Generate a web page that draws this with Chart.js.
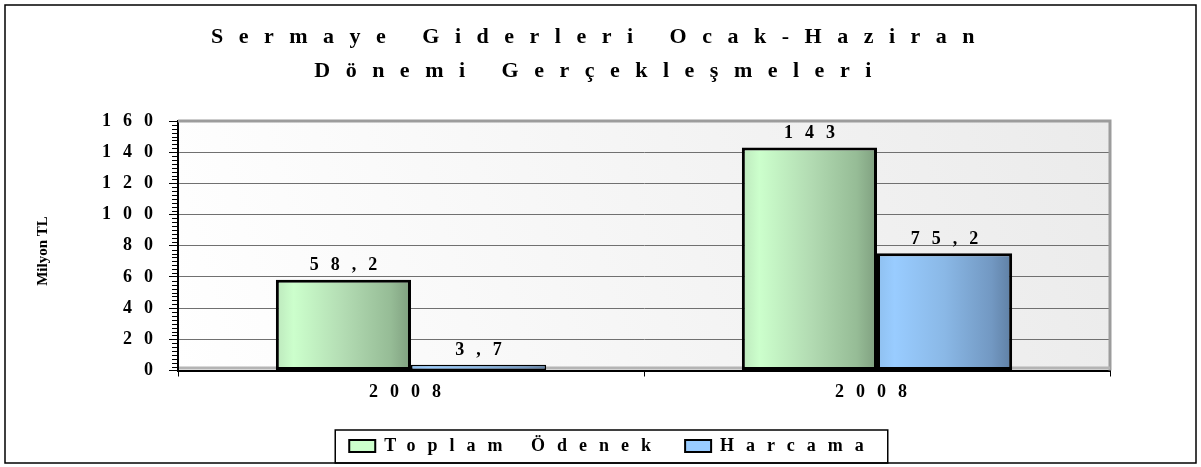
<!DOCTYPE html>
<html>
<head>
<meta charset="utf-8">
<script src="https://cdn.jsdelivr.net/npm/chart.js@4.4.1/dist/chart.umd.min.js"></script>
<style>
  html, body { margin: 0; padding: 0; background: #fff; }
  canvas { display: block; }
</style>
</head>
<body>
<canvas id="giderChart" width="1201" height="467"></canvas>
<script>
const categories = ["2008", "2008"];
const seriesNames = ["Toplam Ödenek", "Harcama"];
const toplamOdenek = [58.2, 143];
const harcama = [3.7, 75.2];
const yTicks = [0, 20, 40, 60, 80, 100, 120, 140, 160];
const titleLines = ["Sermaye Giderleri Ocak-Haziran", "Dönemi Gerçekleşmeleri"];
const axisTitle = "Milyon TL";

const FONT = "'Liberation Serif', 'Times New Roman', serif";
const SPACING = "12px";
const TITLE_SPACING = "15.5px";
const LEGEND_SHIFT = 12;
const flatColors = ["#ccffcc", "#99ccff"];

function barFill(stops, flat) {
    return function (c) {
        const el = c.element;
        if (!el || !isFinite(el.x) || !el.width) return flat;
        const g = c.chart.ctx.createLinearGradient(el.x - el.width / 2, 0, el.x + el.width / 2, 0);
        stops.forEach(s => g.addColorStop(s[0], s[1]));
        return g;
    };
}

// wide letter spacing like the original document
const spacedText = {
    id: "spacedText",
    afterInit(chart) { wrapBoxes(chart); },
    beforeUpdate(chart) { wrapBoxes(chart); chart.ctx.letterSpacing = SPACING; },
    beforeDraw(chart) { chart.ctx.letterSpacing = SPACING; }
};
function wrapBoxes(chart) {
    const t = chart.titleBlock;
    if (t && !t._spaced) {
        const draw = t.draw.bind(t);
        t.draw = function (area) {
            const ctx = chart.ctx;
            ctx.save();
            ctx.letterSpacing = TITLE_SPACING;
            draw(area);
            ctx.restore();
        };
        t._spaced = true;
    }
    const l = chart.legend;
    if (l && !l._spaced) {
        const draw = l.draw.bind(l);
        l.draw = function (area) {
            const ctx = chart.ctx;
            ctx.save();
            ctx.translate(LEGEND_SHIFT, 0);
            draw(area);
            ctx.restore();
        };
        l._spaced = true;
    }
}

const decor = {
    id: "decor",
    beforeDraw(chart) {
        const ctx = chart.ctx, a = chart.chartArea;
        ctx.save();
        ctx.fillStyle = "#fff";
        ctx.fillRect(0, 0, chart.width, chart.height);
        ctx.strokeStyle = "#000";
        ctx.lineWidth = 1.5;
        ctx.strokeRect(5, 5, chart.width - 10, chart.height - 9);
        const g = ctx.createLinearGradient(a.left, a.bottom, a.right, a.top);
        g.addColorStop(0, "#ffffff");
        g.addColorStop(1, "#ebebeb");
        ctx.fillStyle = g;
        ctx.fillRect(a.left, a.top, a.width, a.height);
        ctx.restore();
    },
    beforeDatasetsDraw(chart) {
        const ctx = chart.ctx, a = chart.chartArea, y = chart.scales.y;
        ctx.save();
        ctx.strokeStyle = "#9c9c9c";
        ctx.lineWidth = 3;
        ctx.beginPath();
        ctx.moveTo(a.left, a.top);
        ctx.lineTo(a.right, a.top);
        ctx.lineTo(a.right, a.bottom);
        ctx.stroke();
        ctx.fillStyle = "#b4b4b4";
        ctx.fillRect(a.left + 1, a.bottom - 4, a.width - 1, 3);
        // minor ticks
        ctx.strokeStyle = "#000";
        ctx.lineWidth = 1;
        const major = yTicks[1] - yTicks[0];
        for (let v = y.min; v <= y.max; v += major / 8) {
            if (v % major === 0) continue;
            const py = Math.round(y.getPixelForValue(v)) + 0.5;
            ctx.beginPath();
            ctx.moveTo(a.left - 6, py);
            ctx.lineTo(a.left, py);
            ctx.stroke();
        }
        ctx.restore();
    },
    afterDatasetsDraw(chart) {
        const ctx = chart.ctx;
        ctx.save();
        ctx.letterSpacing = SPACING;
        ctx.font = "bold 18px " + FONT;
        ctx.fillStyle = "#000";
        ctx.textAlign = "center";
        ctx.textBaseline = "bottom";
        chart.data.datasets.forEach((ds, i) => {
            chart.getDatasetMeta(i).data.forEach((el, j) => {
                const txt = String(ds.data[j]).replace(".", ",");
                ctx.fillText(txt, el.x + 6, el.y - 5);
            });
        });
        ctx.restore();
    },
    afterDraw(chart) {
        const ctx = chart.ctx, hb = chart.legend.legendHitBoxes;
        ctx.save();
        if (hb && hb.length) {
            const first = hb[0], last = hb[hb.length - 1];
            ctx.strokeStyle = "#000";
            ctx.lineWidth = 1.5;
            ctx.strokeRect(first.left - 14 + LEGEND_SHIFT, first.top - 7,
                last.left + last.width - first.left + 26, first.height + 15);
        }
        ctx.letterSpacing = "0px";
        ctx.translate(43, 251);
        ctx.rotate(-Math.PI / 2);
        ctx.font = "bold 15px " + FONT;
        ctx.fillStyle = "#000";
        ctx.textAlign = "center";
        ctx.textBaseline = "middle";
        ctx.fillText(axisTitle, 0, 0);
        ctx.restore();
    }
};

const barBorder = c => (c.raw !== undefined && c.raw < 10 ? 1.5 : 3);

const giderChart = new Chart(document.getElementById("giderChart").getContext("2d"), {
    type: "bar",
    data: {
        labels: categories,
        datasets: [{
            label: seriesNames[0],
            data: toplamOdenek,
            backgroundColor: barFill([[0, "#bde8bd"], [0.13, "#ccffcc"], [0.5, "#b3dcb3"], [0.85, "#96bc96"], [1, "#7f9f7f"]], flatColors[0]),
            borderColor: "#000",
            borderWidth: barBorder,
            borderSkipped: false,
            categoryPercentage: 0.58,
            barPercentage: 1.0,
        }, {
            label: seriesNames[1],
            data: harcama,
            backgroundColor: barFill([[0, "#8fc0ef"], [0.13, "#99ccff"], [0.5, "#8ab8e6"], [0.85, "#7298c2"], [1, "#5f7fa3"]], flatColors[1]),
            borderColor: "#000",
            borderWidth: barBorder,
            borderSkipped: false,
            categoryPercentage: 0.58,
            barPercentage: 1.0,
        }],
    },
    options: {
        responsive: false,
        animation: false,
        layout: { padding: { left: 91, right: 91, top: 10, bottom: 2 } },
        plugins: {
            title: {
                display: true,
                text: titleLines,
                color: "#000",
                font: { family: FONT, size: 22, weight: "bold", lineHeight: 34 / 22 },
                padding: { top: 10, bottom: 33 },
            },
            legend: {
                display: true,
                position: "bottom",
                labels: {
                    color: "#000",
                    font: { family: FONT, size: 18, weight: "bold" },
                    boxWidth: 26,
                    boxHeight: 12,
                    padding: 22,
                    generateLabels(chart) {
                        return Chart.defaults.plugins.legend.labels.generateLabels(chart)
                            .map((l, i) => Object.assign(l, { lineWidth: 2, strokeStyle: "#000", fillStyle: flatColors[i] }));
                    },
                },
            },
            tooltip: { enabled: false },
        },
        scales: {
            x: {
                afterFit: s => { s.height = 44.5; },
                grid: { display: true, drawOnChartArea: false, drawTicks: true, tickLength: 6, tickColor: "#000", offset: true },
                border: { color: "#000", width: 2 },
                ticks: { color: "#000", font: { family: FONT, size: 18, weight: "bold" }, padding: 5 },
            },
            y: {
                min: yTicks[0],
                max: yTicks[yTicks.length - 1],
                afterFit: s => { s.width = 87; },
                grid: {
                    color: c => (c.tick && c.tick.value === 0 ? "rgba(0,0,0,0)" : "#707070"),
                    lineWidth: 1,
                    tickColor: "#000",
                    tickLength: 9,
                },
                border: { color: "#000", width: 2 },
                ticks: {
                    stepSize: yTicks[1] - yTicks[0],
                    color: "#000",
                    padding: 4,
                    font: { family: FONT, size: 18, weight: "bold" },
                    callback: v => String(v),
                },
            },
        },
    },
    plugins: [spacedText, decor],
});
// second pass so the bar gradients know their element positions
giderChart.update();
</script>
</body>
</html>
